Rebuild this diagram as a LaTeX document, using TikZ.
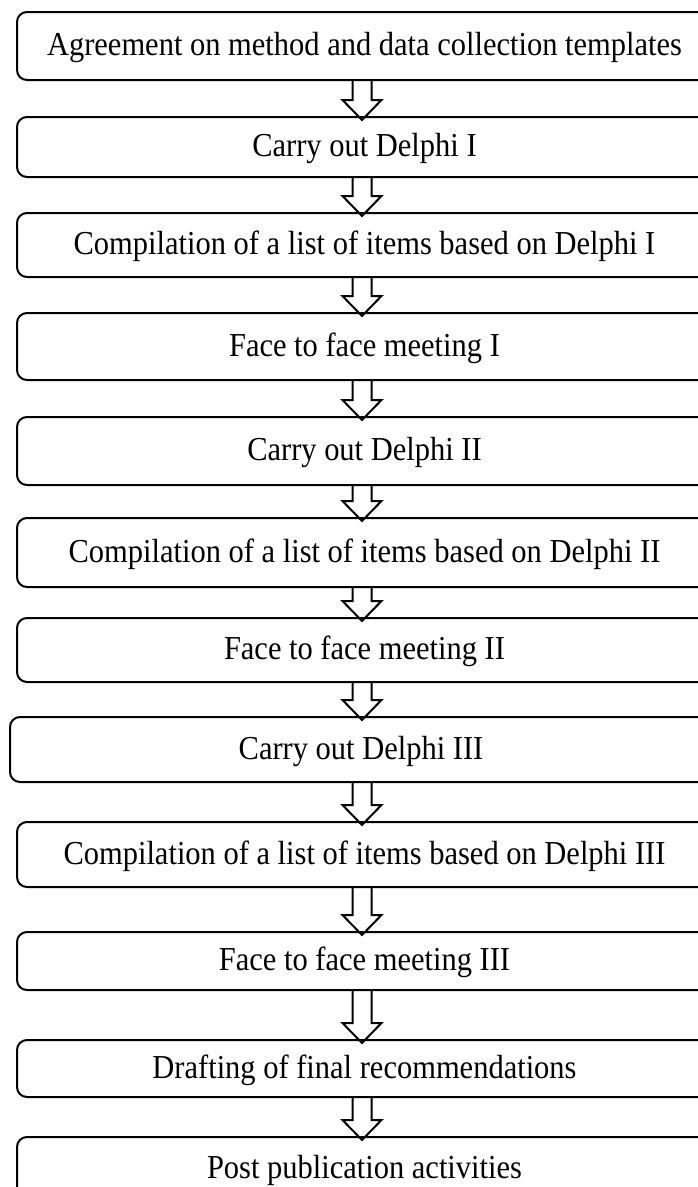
\documentclass[tikz,border=0pt]{standalone}
\usepackage{fontspec}
\setmainfont[FakeStretch=0.91]{Liberation Serif}
\usetikzlibrary{calc}

\tikzset{
  stagebox/.style={draw, line width=2pt, rounded corners=10pt, minimum width=695pt,
    inner sep=0pt, text height=25pt, text depth=6pt, font=\fontsize{33.5}{40}\selectfont},
  flowline/.style={line width=2pt, line join=miter}
}
% hollow block arrow from the bottom of one box into the top of the next
\newcommand{\linkarrow}[2]{%
  \draw[flowline] let \p1=(#1.south), \p2=(#2.north), \p3=(axis) in
    (\x3-9.5pt,\y1) -- (\x3-9.5pt,\y2+16pt) -- (\x3-19.5pt,\y2+16pt) -- (\x3,\y2-4pt)
    -- (\x3+19.5pt,\y2+16pt) -- (\x3+9.5pt,\y2+16pt) -- (\x3+9.5pt,\y1);}

\begin{document}
\begin{tikzpicture}[x=1pt,y=-1pt]
\useasboundingbox (0,0) rectangle (698,1187);
\clip (0,0) rectangle (698,1187);
\coordinate (axis) at (362,0);

\node[stagebox, minimum height=68pt] (s1) at (364.5,46) {Agreement on method and data collection templates};
\node[stagebox, minimum height=60pt] (s2) at (364.5,147) {Carry out Delphi I};
\node[stagebox, minimum height=64pt] (s3) at (364.5,245) {Compilation of a list of items based on Delphi I};
\node[stagebox, minimum height=67pt] (s4) at (364.5,346.5) {Face to face meeting I};
\node[stagebox, minimum height=68pt] (s5) at (364.5,451) {Carry out Delphi II};
\node[stagebox, minimum height=69pt] (s6) at (364.5,552.5) {Compilation of a list of items based on Delphi II};
\node[stagebox, minimum height=64pt] (s7) at (364.5,650) {Face to face meeting II};
\node[stagebox, minimum height=65pt, minimum width=702pt] (s8) at (361,749.5) {Carry out Delphi III};
\node[stagebox, minimum height=65pt] (s9) at (364.5,854.5) {Compilation of a list of items based on Delphi III};
\node[stagebox, minimum height=58pt] (s10) at (364.5,961) {Face to face meeting III};
\node[stagebox, minimum height=57pt] (s11) at (364.5,1068.5) {Drafting of final recommendations};
\node[stagebox, minimum height=63pt] (s12) at (364.5,1168.5) {Post publication activities};

\foreach \a/\b in {s1/s2,s2/s3,s3/s4,s4/s5,s5/s6,s6/s7,s7/s8,s8/s9,s9/s10,s10/s11,s11/s12}
  \linkarrow{\a}{\b};
\end{tikzpicture}
\end{document}
